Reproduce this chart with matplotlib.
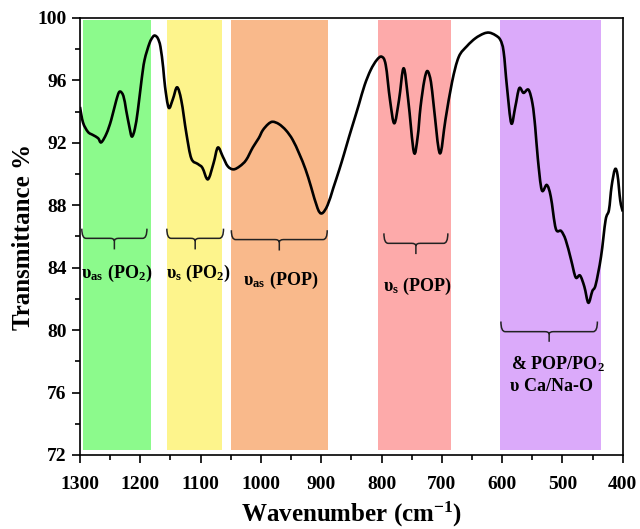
import matplotlib
matplotlib.use("Agg")
import numpy as np
import matplotlib.pyplot as plt
from matplotlib.path import Path
from matplotlib.patches import PathPatch
from matplotlib.ticker import MultipleLocator

plt.rcParams['font.family'] = ['Liberation Serif', 'DejaVu Serif']
plt.rcParams['font.weight'] = 'bold'
plt.rcParams['mathtext.fontset'] = 'custom'
plt.rcParams['mathtext.rm'] = 'Liberation Serif:bold'
plt.rcParams['mathtext.bf'] = 'Liberation Serif:bold'
plt.rcParams['mathtext.it'] = 'Liberation Serif:bold'

# FTIR spectrum (wavenumber cm-1, transmittance %)
wavenumber = [1300, 1295, 1286.8, 1278.5, 1270, 1264.8, 1256, 1248.3, 1240, 1234.4, 1228,
              1223.5, 1218, 1214, 1209, 1204, 1198, 1193, 1184.8, 1179, 1175.5, 1171,
              1166.6, 1162, 1159, 1152.9, 1146, 1139, 1131.9, 1123.6, 1115.4, 1104.4,
              1097, 1087.9, 1078.5, 1071.4, 1063, 1055, 1045.5, 1035, 1024.5, 1013.5,
              1003.6, 997, 988, 980.5, 970, 958.4, 947.4, 936.4, 926, 917, 906, 898.8,
              889.5, 880, 870.2, 862, 853.7, 845, 837.2, 828, 817.9, 808, 799.7, 793,
              785.9, 778.8, 771, 763.3, 755.7, 746.3, 740, 735.3, 729, 723.8, 718,
              713.2, 703.3, 693.9, 683, 672, 658.2, 644.3, 630.6, 621.2, 611.3, 603,
              597.5, 592, 584.8, 578.2, 571.6, 564.5, 556.2, 549.6, 545.1, 540.8, 534.2,
              525.9, 519.3, 511, 502.1, 494.5, 485.6, 478, 470.8, 463.6, 457, 450.4,
              444.9, 436, 428.4, 422.8, 418.5, 412.9, 408.6, 404.1, 400]
transmittance = [94.3, 93.3, 92.7, 92.5, 92.3, 92.03, 92.6, 93.46, 94.7, 95.28, 95.0,
                 94.1, 93.0, 92.4, 92.9, 94.1, 96.0, 97.3, 98.38, 98.8, 98.87, 98.7,
                 98.16, 96.8, 95.6, 94.25, 94.8, 95.56, 94.7, 92.6, 91.0, 90.64,
                 90.4, 89.66, 90.7, 91.7, 91.1, 90.5, 90.3, 90.5, 90.9, 91.7,
                 92.3, 92.8, 93.2, 93.35, 93.2, 92.8, 92.2, 91.3, 90.3, 89.2, 87.8, 87.48,
                 88.0, 89.1, 90.26, 91.3, 92.4, 93.5, 94.5, 95.7, 96.67, 97.3, 97.52, 96.99,
                 94.74, 93.25, 94.74, 96.78, 94.74, 91.4, 92.4, 94.3, 96.0, 96.6, 95.9,
                 94.3, 91.33, 93.5, 95.9, 97.5, 98.2, 98.7, 99.0, 99.06, 98.9, 98.6,
                 97.84, 95.6, 93.25, 94.3, 95.5, 95.2, 95.4, 94.5, 93.0, 91.0, 88.97,
                 89.3, 88.55, 86.5, 86.35, 85.77, 84.5, 83.38, 83.5, 82.78, 81.75, 82.5,
                 82.9, 84.7, 87.05, 87.7, 89.2, 90.3, 89.94, 88.3, 87.6]

# vibration regions (left edge, right edge, colour)
band_left = [1295.5, 1155.7, 1050.4, 806.3, 603.6]
band_right = [1181.5, 1064.8, 888.0, 685.0, 436.7]
band_colors = ['#8cfa8c', '#fdf48c', '#f9b98b', '#fdaaaa', '#dbaafa']

# curly brackets: x0, x1, y of the end hooks, y of the bar, y of the tip
brace_x0 = [1297, 1156, 1049, 796, 602]
brace_x1 = [1189, 1062, 890, 690, 442]
brace_top = [86.5, 86.5, 86.4, 86.2, 80.55]
brace_mid = [85.88, 85.88, 85.8, 85.56, 79.9]
brace_tip = [85.17, 85.17, 85.1, 84.87, 79.25]

labels = [r'$\mathbf{υ_{as}\ (PO_2)}$', r'$\mathbf{υ_{s}\ (PO_2)}$',
          r'$\mathbf{υ_{as}\ (POP)}$', r'$\mathbf{υ_{s}\ (POP)}$',
          r'$\mathbf{&\ POP/PO_2}$', r'$\mathbf{υ\ Ca/Na\text{-}O}$']
label_x = [1239.4, 1103.9, 967.8, 739.7, 506.6, 519]
label_y = [83.6, 83.6, 83.2, 82.78, 77.8, 76.4]


def smooth_path(xs, ys):
    # Catmull-Rom segments written as cubic Bezier path pieces
    p = np.column_stack([xs, ys]).astype(float)
    p = np.vstack([p[0], p, p[-1]])
    verts = [tuple(p[1])]
    codes = [Path.MOVETO]
    for i in range(1, len(p) - 2):
        c1 = p[i] + (p[i + 1] - p[i - 1]) / 6.0
        c2 = p[i + 1] - (p[i + 2] - p[i]) / 6.0
        verts += [tuple(c1), tuple(c2), tuple(p[i + 1])]
        codes += [Path.CURVE4] * 3
    return Path(verts, codes)


def draw_brace(ax, x0, x1, ytop, ymid, ytip):
    r = 7
    s = -1 if x1 < x0 else 1
    xc = 0.5 * (x0 + x1)
    tip_join = ymid - 0.25 * (ymid - ytip)
    verts = [(x0, ytop), (x0, ymid), (x0 + s * r, ymid),
             (xc - s * r, ymid),
             (xc, ymid), (xc, tip_join),
             (xc, ytip), (xc, tip_join),
             (xc, ymid), (xc + s * r, ymid),
             (x1 - s * r, ymid),
             (x1, ymid), (x1, ytop)]
    codes = [Path.MOVETO, Path.CURVE3, Path.CURVE3,
             Path.LINETO,
             Path.CURVE3, Path.CURVE3,
             Path.LINETO, Path.MOVETO,
             Path.CURVE3, Path.CURVE3,
             Path.LINETO,
             Path.CURVE3, Path.CURVE3]
    ax.add_patch(PathPatch(Path(verts, codes), fill=False, lw=1.1,
                           edgecolor='#222222', zorder=3))


fig = plt.figure(figsize=(6.4, 5.29), dpi=100)
ax = fig.add_axes([0.125, 0.140, 0.848, 0.826])

for x0, x1, c in zip(band_left, band_right, band_colors):
    ax.fill_betweenx([72.3, 99.9], x0, x1, color=c, lw=0, zorder=1)

ax.add_patch(PathPatch(smooth_path(wavenumber, transmittance), fill=False,
                       edgecolor='black', lw=1.9, joinstyle='round', zorder=4))

for i in range(len(brace_x0)):
    draw_brace(ax, brace_x0[i], brace_x1[i], brace_top[i], brace_mid[i], brace_tip[i])

for t, x, y in zip(labels, label_x, label_y):
    ax.text(x, y, t, ha='center', va='center', fontsize=13, zorder=5)

ax.set_xlim(1300, 400)
ax.set_ylim(72, 100)
ax.xaxis.set_major_locator(MultipleLocator(100))
ax.xaxis.set_minor_locator(MultipleLocator(50))
ax.yaxis.set_major_locator(MultipleLocator(4))
ax.yaxis.set_minor_locator(MultipleLocator(2))
ax.tick_params(which='major', direction='out', length=6, width=1.2, labelsize=14)
ax.tick_params(axis='x', which='major', pad=9)
ax.tick_params(which='minor', direction='out', length=3.5, width=1.2)
for sp in ax.spines.values():
    sp.set_linewidth(1.2)
for lab in ax.get_xticklabels() + ax.get_yticklabels():
    lab.set_fontweight('bold')

ax.set_xlabel(r'Wavenumber (cm$^{\mathbf{-1}}$)', fontsize=18, fontweight='bold', labelpad=5)
ax.set_ylabel('Transmittance %', fontsize=18, fontweight='bold', labelpad=2)

fig.savefig('out.png', dpi=100)
